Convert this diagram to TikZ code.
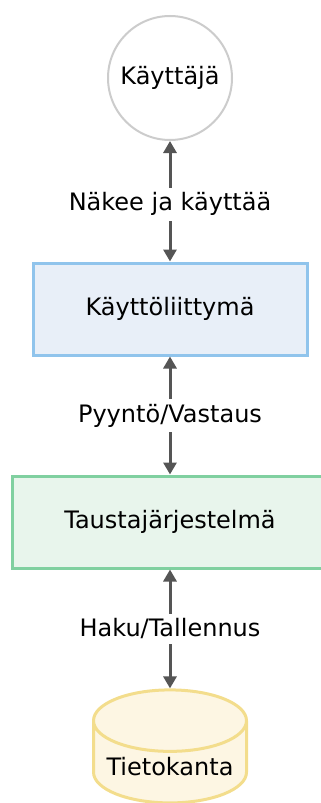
\documentclass[tikz,border=0pt]{standalone}
\usepackage{fontspec}
\setmainfont{DejaVu Sans}
\usetikzlibrary{shapes.geometric,arrows.meta}
\definecolor{arrowgray}{HTML}{555555}
\definecolor{usergray}{HTML}{CCCCCC}
\definecolor{uifill}{HTML}{E8EFF8}
\definecolor{uiline}{HTML}{90C4EC}
\definecolor{bkfill}{HTML}{E8F5EC}
\definecolor{bkline}{HTML}{80D0A0}
\definecolor{dbfill}{HTML}{FDF6E3}
\definecolor{dbline}{HTML}{F3DD8C}

\tikzset{
  txt/.style={font=\fontsize{24pt}{28pt}\selectfont, text=black},
  layer/.style={txt, rectangle, draw, line width=3pt, minimum height=92pt},
  link/.style={{Triangle[width=13pt,length=12pt]}-{Triangle[width=13pt,length=12pt]}, line width=3pt, draw=arrowgray, fill=arrowgray},
  linklabel/.style={txt, fill=white, draw=none, inner sep=5pt}
}

\begin{document}
\begin{tikzpicture}[x=1pt,y=-1pt]
\useasboundingbox (0,0) rectangle (321,803);
\clip (0,0) rectangle (321,803);

% osat
\node [txt, circle, draw=usergray, line width=2pt, fill=white, minimum size=124pt] (user) at (170,78) {Käyttäjä};
\node [layer, draw=uiline, fill=uifill, minimum width=274pt] (ui) at (170,309) {Käyttöliittymä};
\node [layer, draw=bkline, fill=bkfill, minimum width=316pt] (backend) at (170,522) {Taustajärjestelmä};
\node [txt, cylinder, shape border rotate=90, aspect=0.46, draw=dbline, line width=3pt,
       cylinder uses custom fill, cylinder body fill=dbfill, cylinder end fill=dbfill,
       minimum width=153pt, minimum height=113pt] (db) at (170,767) {Tietokanta};

% yhteydet
\draw [link] (user) -- (ui) node [linklabel, midway, yshift=-3pt] {Näkee ja käyttää};
\draw [link] (ui) -- (backend) node [linklabel, midway] {Pyyntö/Vastaus};
\draw [link] (backend) -- (db) node [linklabel, midway] {Haku/Tallennus};
\end{tikzpicture}
\end{document}
